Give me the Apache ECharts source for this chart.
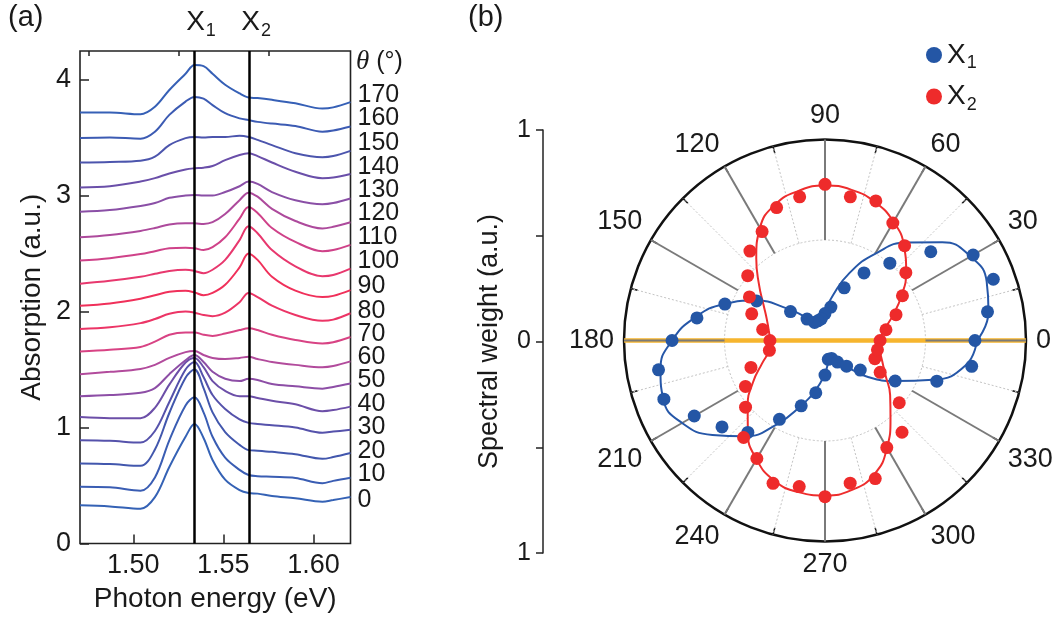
<!DOCTYPE html>
<html><head><meta charset="utf-8">
<script src="https://cdn.jsdelivr.net/npm/echarts@6/dist/echarts.min.js"></script>
<style>html,body{margin:0;padding:0;background:#fff}#c{width:1061px;height:624px}</style>
</head><body><div id="c"></div><script>
// ---------- panel (a): absorption spectra ----------
const energy = [1.4704, 1.487, 1.504, 1.512, 1.520, 1.529, 1.534, 1.539, 1.544, 1.551, 1.559, 1.564, 1.569, 1.577, 1.590, 1.605, 1.611, 1.6206];
const thetaLabels = [0, 10, 20, 30, 40, 50, 60, 70, 80, 90, 100, 110, 120, 130, 140, 150, 160, 170];
const a0   = [0.33,0.32,0.30,0.40,0.66,0.92,1.03,0.91,0.72,0.55,0.46,0.435,0.43,0.41,0.39,0.36,0.375,0.40];
const a10  = [0.49,0.485,0.455,0.57,0.89,1.19,1.26,1.13,0.92,0.74,0.635,0.59,0.58,0.575,0.565,0.52,0.54,0.567];
const a20  = [0.69,0.685,0.67,0.81,1.125,1.43,1.50,1.34,1.13,0.96,0.85,0.805,0.80,0.79,0.77,0.73,0.745,0.78];
const a30  = [0.89,0.885,0.87,0.97,1.22,1.50,1.565,1.435,1.28,1.16,1.07,1.04,1.03,1.02,1.00,0.955,0.965,0.98];
const a40  = [1.09,1.08,1.08,1.17,1.37,1.56,1.60,1.52,1.40,1.315,1.27,1.27,1.255,1.23,1.20,1.14,1.15,1.18];
const a50  = [1.27,1.28,1.30,1.34,1.46,1.58,1.625,1.565,1.48,1.42,1.40,1.42,1.41,1.375,1.355,1.335,1.35,1.38];
const a60  = [1.46,1.48,1.505,1.54,1.60,1.65,1.66,1.625,1.60,1.59,1.60,1.61,1.59,1.565,1.54,1.52,1.53,1.57];
const a70  = [1.655,1.67,1.695,1.74,1.80,1.82,1.82,1.80,1.79,1.81,1.84,1.855,1.84,1.80,1.755,1.725,1.735,1.78];
const a80  = [1.85,1.865,1.90,1.935,1.98,2.00,1.99,1.97,1.96,1.99,2.08,2.16,2.125,2.05,1.97,1.92,1.93,1.985];
const a90  = [2.05,2.07,2.11,2.14,2.17,2.18,2.165,2.14,2.16,2.23,2.38,2.50,2.445,2.30,2.18,2.125,2.135,2.185];
const a100 = [2.24,2.265,2.30,2.325,2.35,2.36,2.35,2.33,2.36,2.445,2.615,2.735,2.675,2.53,2.39,2.305,2.315,2.37];
const a110 = [2.44,2.46,2.495,2.52,2.545,2.55,2.545,2.53,2.555,2.64,2.80,2.90,2.85,2.72,2.60,2.52,2.53,2.575];
const a120 = [2.64,2.66,2.695,2.72,2.75,2.76,2.76,2.755,2.77,2.84,2.96,3.025,2.99,2.885,2.78,2.715,2.73,2.77];
const a130 = [2.86,2.875,2.91,2.935,2.98,3.00,3.005,3.00,3.00,3.03,3.08,3.12,3.10,3.03,2.96,2.925,2.935,2.975];
const a140 = [3.07,3.08,3.12,3.15,3.19,3.225,3.235,3.24,3.255,3.305,3.35,3.365,3.34,3.285,3.205,3.15,3.155,3.185];
const a150 = [3.285,3.29,3.30,3.335,3.435,3.495,3.505,3.50,3.505,3.505,3.515,3.505,3.48,3.435,3.365,3.33,3.34,3.385];
const a160 = [3.495,3.50,3.49,3.55,3.695,3.81,3.85,3.835,3.78,3.71,3.665,3.65,3.635,3.62,3.60,3.55,3.56,3.595];
const a170 = [3.715,3.715,3.70,3.765,3.91,4.05,4.125,4.115,4.05,3.955,3.88,3.845,3.84,3.825,3.795,3.75,3.76,3.805];
const spectra = [a0,a10,a20,a30,a40,a50,a60,a70,a80,a90,a100,a110,a120,a130,a140,a150,a160,a170];
const curveColors = ['#3562b5','#3a5db3','#4257ad','#5552ab','#6c4fa8','#8d4ea6','#b24b9c','#d84384','#ec3566','#f0305a',
                     '#e8386e','#cf4289','#ad4a9c','#8a4fa6','#6a4fa9','#4c55ad','#3c5bb3','#3660b6'];
const labelShift = [3,-4,-2,-3,-3,-3,-4,-3,-2,-4,-7,-8,-9,-8,-7,-8,-8,-7];
const x1Energy = 1.5337, x2Energy = 1.5643;
const xMajorTicks = [1.50, 1.55, 1.60];
const xMinorTicks = [1.475, 1.525, 1.575];
const yTicks = [0, 1, 2, 3, 4];

// ---------- panel (b): polar spectral weights ----------
const polarAngle = [0,10,20,30,40,50,60,70,80,90,100,110,120,130,140,150,160,170,180,190,200,210,220,230,240,250,260,270,280,290,300,310,320,330,340,350];
const x1Weight = [.746,.821,.891,.851,.687,.502,.388,.279,.169,.134,.109,.104,.104,.139,.224,.393,.530,.647,.761,.841,.853,.751,.669,.597,.453,.346,.264,.172,.095,.095,.124,.167,.229,.403,.592,.741];
const x2Weight = [.274,.308,.376,.445,.525,.616,.675,.739,.726,.777,.726,.704,.626,.581,.502,.434,.388,.315,.274,.281,.392,.457,.516,.630,.678,.756,.738,.777,.721,.731,.615,.596,.482,.317,.264,.265];
const x1Fit = [.756,.826,.856,.836,.761,.637,.498,.358,.229,.144,.104,.090,.104,.154,.249,.398,.532,.657,.761,.831,.856,.821,.731,.622,.483,.343,.244,.164,.109,.100,.124,.174,.284,.403,.572,.711];
const x2Fit = [.274,.299,.358,.438,.527,.612,.682,.731,.761,.771,.756,.721,.647,.532,.428,.353,.308,.284,.274,.284,.333,.413,.502,.597,.682,.741,.766,.771,.756,.711,.617,.507,.423,.348,.303,.279];
const solidSpokes = [0,30,60,90,120,150,180,210,240,270,300,330];
const dottedSpokes = [15,45,75,105,135,165,195,225,255,285,315,345];

const FONT = '"Liberation Sans", Arial, Helvetica, sans-serif';
const INK = '#1a1a1a';
const subRich = {
  x: {fontSize: 28, fontFamily: FONT, color: INK},
  s: {fontSize: 18, fontFamily: FONT, color: INK, padding: [17, 0, 0, 1]}
};
const markRich = {
  x: {fontSize: 28, fontFamily: FONT, color: INK, padding: [0, 0, 0, 14]},
  s: {fontSize: 18, fontFamily: FONT, color: INK, padding: [17, 0, 0, 1]}
};

const series = [];
spectra.forEach((vals, i) => {
  const t = thetaLabels[i];
  series.push({
    type: 'line', name: 'theta' + t, xAxisIndex: 0, yAxisIndex: 0,
    data: energy.map((e, j) => [e, vals[j]]),
    smooth: 0.35, symbol: 'none', silent: true, z: 3,
    lineStyle: {color: curveColors[i], width: 2},
    itemStyle: {color: curveColors[i]},
    endLabel: {show: true, formatter: () => String(t), color: INK, fontSize: 25, fontFamily: FONT, distance: 7, offset: [0, labelShift[i]]}
  });
});
// X1 / X2 vertical marker lines
series.push({
  type: 'line', xAxisIndex: 0, yAxisIndex: 0, data: [[x1Energy, 0]], symbol: 'none', silent: true,
  lineStyle: {opacity: 0}, z: 4,
  markLine: {
    silent: true, symbol: ['none', 'none'], animation: false, precision: 5,
    lineStyle: {color: '#000', width: 2.5, type: 'solid'},
    label: {show: true, position: 'end', distance: 11, formatter: p => '{x|X}{s|' + p.name + '}', rich: markRich},
    data: [{name: '1', xAxis: x1Energy}, {name: '2', xAxis: x2Energy}]
  }
});
// polar: orange horizontal line
series.push({type: 'line', coordinateSystem: 'polar', data: [[1, 0], [0, 0], [1, 180]], symbol: 'none', silent: true,
  lineStyle: {color: '#f6b52e', width: 4.5}, z: 1});
// spokes
const spokeRender = (stroke, width, dash) => (params, api) => {
  const a = api.value(1);
  const p0 = api.coord([0.5, a]);
  const p1 = api.coord([1, a]);
  return {type: 'line', shape: {x1: p0[0], y1: p0[1], x2: p1[0], y2: p1[1]},
          style: {stroke: stroke, lineWidth: width, lineDash: dash}};
};
series.push({type: 'custom', coordinateSystem: 'polar', silent: true, z: 2,
  data: dottedSpokes.map(a => [1, a]), renderItem: spokeRender('#c4c4c4', 1, [2, 2])});
series.push({type: 'custom', coordinateSystem: 'polar', silent: true, z: 2,
  data: solidSpokes.map(a => [1, a]), renderItem: spokeRender('#7a7a7a', 2, null)});
// fitted curves
const closed = polarAngle.concat([360]);
series.push({type: 'line', name: 'X1 fit', coordinateSystem: 'polar', smooth: 0.5, symbol: 'none', silent: true, z: 4,
  data: closed.map((a, i) => [x1Fit[i % polarAngle.length], a]), lineStyle: {color: '#2657a8', width: 2}});
series.push({type: 'line', name: 'X2 fit', coordinateSystem: 'polar', smooth: 0.5, symbol: 'none', silent: true, z: 4,
  data: closed.map((a, i) => [x2Fit[i % polarAngle.length], a]), lineStyle: {color: '#ee2d2d', width: 2}});
// data points
series.push({type: 'scatter', name: 'X1', coordinateSystem: 'polar', symbolSize: 13, silent: true, z: 5,
  data: polarAngle.map((a, i) => [x1Weight[i], a]), itemStyle: {color: '#2456a5', opacity: 1}});
series.push({type: 'scatter', name: 'X2', coordinateSystem: 'polar', symbolSize: 13, silent: true, z: 6,
  data: polarAngle.map((a, i) => [x2Weight[i], a]), itemStyle: {color: '#ee2b2b', opacity: 1}});

const chart = echarts.init(document.getElementById('c'), null, {renderer: 'canvas'});
chart.setOption({
  animation: false,
  backgroundColor: '#fff',
  textStyle: {fontFamily: FONT, color: INK},
  grid: [
    {left: 80, top: 51, right: 710.5, bottom: 80.5, show: true, borderColor: '#222', borderWidth: 1.6, backgroundColor: 'transparent'},
    {left: 543, top: 130, width: 1, height: 423}
  ],
  xAxis: [
    {type: 'value', gridIndex: 0, min: 1.4704, max: 1.6206,
     axisLine: {show: false}, splitLine: {show: false},
     axisTick: {show: true, inside: true, length: 9, customValues: xMajorTicks, lineStyle: {color: '#222', width: 1.5}},
     axisLabel: {customValues: xMajorTicks, formatter: v => v.toFixed(2), fontSize: 27, margin: 9, color: INK, fontFamily: FONT},
     name: 'Photon energy (eV)', nameLocation: 'middle', nameGap: 42,
     nameTextStyle: {fontSize: 28, color: INK, fontFamily: FONT}},
    {type: 'value', gridIndex: 0, min: 1.4704, max: 1.6206,
     axisLine: {show: false}, splitLine: {show: false}, axisLabel: {show: false},
     axisTick: {show: true, inside: true, length: 5, customValues: xMinorTicks, lineStyle: {color: '#222', width: 1.5}}},
    {type: 'value', gridIndex: 1, show: false, min: 0, max: 1}
  ],
  yAxis: [
    {type: 'value', gridIndex: 0, min: 0, max: 4.246,
     axisLine: {show: false}, splitLine: {show: false},
     axisTick: {show: true, inside: true, length: 9, customValues: yTicks, lineStyle: {color: '#222', width: 1.5}},
     axisLabel: {customValues: yTicks, fontSize: 27, margin: 9, color: INK, fontFamily: FONT},
     name: 'Absorption (a.u.)', nameLocation: 'middle', nameGap: 34, nameRotate: 90,
     nameTextStyle: {fontSize: 28, color: INK, fontFamily: FONT}},
    {type: 'value', gridIndex: 1, min: -1, max: 1, interval: 0.5,
     axisLine: {show: true, lineStyle: {color: '#222', width: 1.5}}, splitLine: {show: false},
     axisTick: {show: true, inside: false, length: 7, lineStyle: {color: '#222', width: 1.5}},
     axisLabel: {fontSize: 25, margin: 12, color: INK, fontFamily: FONT,
                 formatter: v => (Math.abs(v) === 1 ? '1' : (v === 0 ? '0' : ''))},
     name: 'Spectral weight (a.u.)', nameLocation: 'middle', nameGap: 40, nameRotate: 90,
     nameTextStyle: {fontSize: 27, color: INK, fontFamily: FONT}}
  ],
  polar: {center: [825, 340.5], radius: 201},
  angleAxis: {type: 'value', min: 0, max: 360, interval: 15, startAngle: 0, clockwise: false,
    axisLine: {show: true, lineStyle: {color: '#111', width: 2.5}},
    axisTick: {show: true, inside: true, length: 7, lineStyle: {color: '#111', width: 1.5}},
    axisLabel: {fontSize: 27, margin: 10, color: INK, fontFamily: FONT,
                formatter: v => (v % 30 === 0 && v < 360 ? String(v) : '')},
    splitLine: {show: false}},
  radiusAxis: {type: 'value', min: 0, max: 1, interval: 0.5,
    axisLine: {show: false}, axisTick: {show: false}, axisLabel: {show: false},
    splitLine: {show: true, lineStyle: {color: '#c4c4c4', width: 1, type: [2, 2]}}},
  legend: {data: ['X1', 'X2'], orient: 'vertical', left: 921, top: 36, icon: 'circle',
    itemWidth: 16, itemHeight: 16, itemGap: 10, selectedMode: false,
    formatter: n => '{x|X}{s|' + n.slice(1) + '}',
    textStyle: {color: INK, rich: subRich}},
  graphic: [
    {type: 'text', left: 8, top: 3, style: {text: '(a)', fontSize: 29, fontFamily: FONT, fill: INK}},
    {type: 'text', left: 468, top: 3, style: {text: '(b)', fontSize: 29, fontFamily: FONT, fill: INK}},
    {type: 'text', x: 356, y: 62, style: {text: '{t|θ} (°)', verticalAlign: 'middle', fontSize: 25, fontFamily: FONT, fill: INK,
      rich: {t: {fontSize: 27, fontStyle: 'italic', fontFamily: '"Liberation Serif", "DejaVu Serif", serif', fill: INK}}}}
  ],
  series: series
});
</script></body></html>
